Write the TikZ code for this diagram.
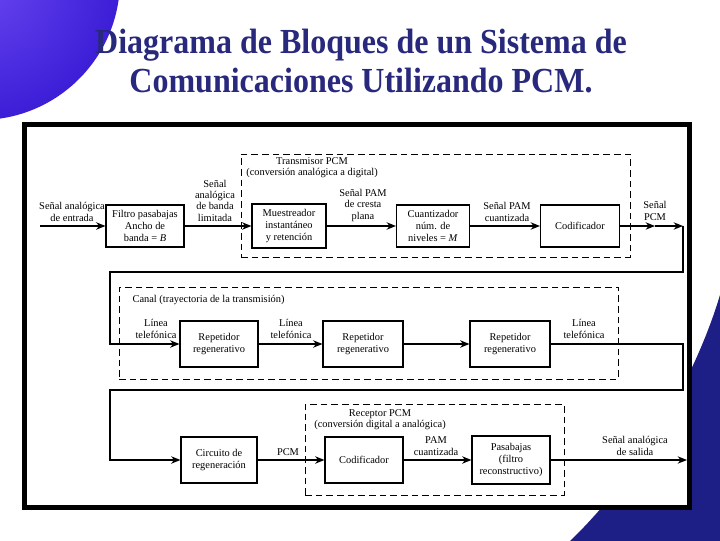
\documentclass[tikz,border=0pt]{standalone}
\usepackage{fontspec}
\setmainfont{Liberation Serif}
\usepackage{graphicx}
\usetikzlibrary{arrows, arrows.meta, positioning, calc}
\definecolor{titleblue}{RGB}{40,40,125}
\definecolor{ballin}{RGB}{105,70,240}
\definecolor{ballout}{RGB}{60,30,215}
\definecolor{swoosh}{RGB}{30,30,135}
\tikzstyle{block} = [rectangle, draw=black, line width=0.8pt, align=center, inner sep=1pt, font=\fontsize{7.8}{8.7}\selectfont]
\tikzstyle{lbl} = [align=center, inner sep=1pt, font=\fontsize{7.8}{8.5}\selectfont]
\tikzstyle{stage} = [rectangle, draw=black, line width=0.6pt, dash pattern=on 5pt off 3pt]
\tikzstyle{arrow} = [line width=1.1pt,->,>={Stealth[length=7pt,width=5.5pt]}]
\tikzstyle{heading} = [anchor=base, text=titleblue, font=\fontsize{24}{29}\bfseries]

\begin{document}
\begin{tikzpicture}[x=0.75pt, y=-0.75pt]
  \useasboundingbox (0,0) rectangle (720,540);
  % slide background
  \fill[white] (0,0) rectangle (720,540);
  \begin{scope}
    \clip (0,0) rectangle (720,540);
    \shade[inner color=ballin, outer color=ballout] (-20,-20) circle (140);
    \fill[swoosh] (722,288) .. controls (702,360) and (650,465) .. (566,545) -- (725,545) -- cycle;
  \end{scope}

  \node (titleA) [heading] at (361,53) {\scalebox{1}[1.1]{Diagrama de Bloques de un Sistema de}};
  \node (titleB) [heading] at (361,92) {\scalebox{1}[1.1]{Comunicaciones Utilizando PCM.}};

  % frame of the figure
  \draw[line width=3.75pt, fill=white] (24.5,124.5) rectangle (689.5,507.5);

  % dashed stages
  \node (tx) [stage, minimum width=291.75pt, minimum height=77.25pt] at (435.5,205.5) {};
  \node (canal) [stage, minimum width=374.25pt, minimum height=69pt] at (368.5,333) {};
  \node (rx) [stage, minimum width=194.25pt, minimum height=68.25pt] at (434.5,449.5) {};

  % transmitter
  \node (filtro) [block, minimum width=58.5pt, minimum height=31.5pt] at (145,226) {Filtro pasabajas\\Ancho de\\banda = \textit{B}};
  \node (muestreo) [block, minimum width=55.5pt, minimum height=33pt] at (289,226) {Muestreador\\instantáneo\\y retención};
  \node (cuantiz) [block, minimum width=54.75pt, minimum height=31.5pt] at (433,226) {Cuantizador\\núm. de\\niveles = \textit{M}};
  \node (codif) [block, minimum width=59.25pt, minimum height=31.5pt] at (580,226) {Codificador};

  % channel
  \node (rep1) [block, minimum width=58.5pt, minimum height=34.5pt] at (219,344) {Repetidor\\regenerativo};
  \node (rep2) [block, minimum width=60pt, minimum height=34.5pt] at (363,344) {Repetidor\\regenerativo};
  \node (rep3) [block, minimum width=60pt, minimum height=34.5pt] at (510,344) {Repetidor\\regenerativo};

  % receiver
  \node (circ) [block, minimum width=57pt, minimum height=34.5pt] at (219,460) {Circuito de\\regeneración};
  \node (decod) [block, minimum width=58.5pt, minimum height=34.5pt] at (364,460) {Codificador};
  \node (pasab) [block, minimum width=58.5pt, minimum height=36pt] at (511,460) {Pasabajas\\(filtro\\reconstructivo)};

  % labels
  \node (lblEnt) [lbl, anchor=south] at (72,223) {Señal analógica\\de entrada};
  \node (lblBanda) [lbl, anchor=south] at (215,223) {Señal\\analógica\\de banda\\limitada};
  \node (lblTx) [lbl] at (312,168) {Transmisor PCM\\(conversión analógica a digital)};
  \node (lblPlana) [lbl, anchor=south] at (363,223) {Señal PAM\\de cresta\\plana};
  \node (lblCuant) [lbl, anchor=south] at (507,223) {Señal PAM\\cuantizada};
  \node (lblPcm) [lbl, anchor=south] at (655,222) {Señal\\PCM};
  \node (lblCanal) [lbl, anchor=west] at (131,300) {Canal (trayectoria de la transmisión)};
  \node (lblLin1) [lbl, anchor=south] at (156,340) {Línea\\telefónica};
  \node (lblLin2) [lbl, anchor=south] at (291,340) {Línea\\telefónica};
  \node (lblLin3) [lbl, anchor=south] at (584,340) {Línea\\telefónica};
  \node (lblRx) [lbl] at (380,420) {Receptor PCM\\(conversión digital a analógica)};
  \node (lblPcmB) [lbl, anchor=south] at (288,457) {PCM};
  \node (lblPam) [lbl, anchor=south] at (436,457) {PAM\\cuantizada};
  \node (lblSal) [lbl, anchor=south] at (635,457) {Señal analógica\\de salida};

  \coordinate (entrada) at (40,226);
  \coordinate (pcmA) at (655,226);
  \coordinate (esqA) at (683,226);
  \coordinate (bajA) at (110,272);
  \coordinate (esqB) at (683,344);
  \coordinate (bajB) at (110,390);
  \coordinate (salida) at (687,460);

  \draw[arrow] (entrada) -- (filtro);
  \draw[arrow] (filtro) -- (muestreo);
  \draw[arrow] (muestreo) -- (cuantiz);
  \draw[arrow] (cuantiz) -- (codif);
  \draw[arrow] (codif) -- (pcmA);
  \draw[arrow] (pcmA) -- (esqA);
  \draw[arrow] (esqA) |- (bajA) |- (rep1.west);
  \draw[arrow] (rep1) -- (rep2);
  \draw[arrow] (rep2) -- (rep3);
  \draw[arrow] (rep3) -- (esqB) |- (bajB) |- (circ.west);
  \draw[arrow] (circ) -- (decod);
  \draw[arrow] (decod) -- (pasab);
  \draw[arrow] (pasab) -- (salida);
\end{tikzpicture}
\end{document}
